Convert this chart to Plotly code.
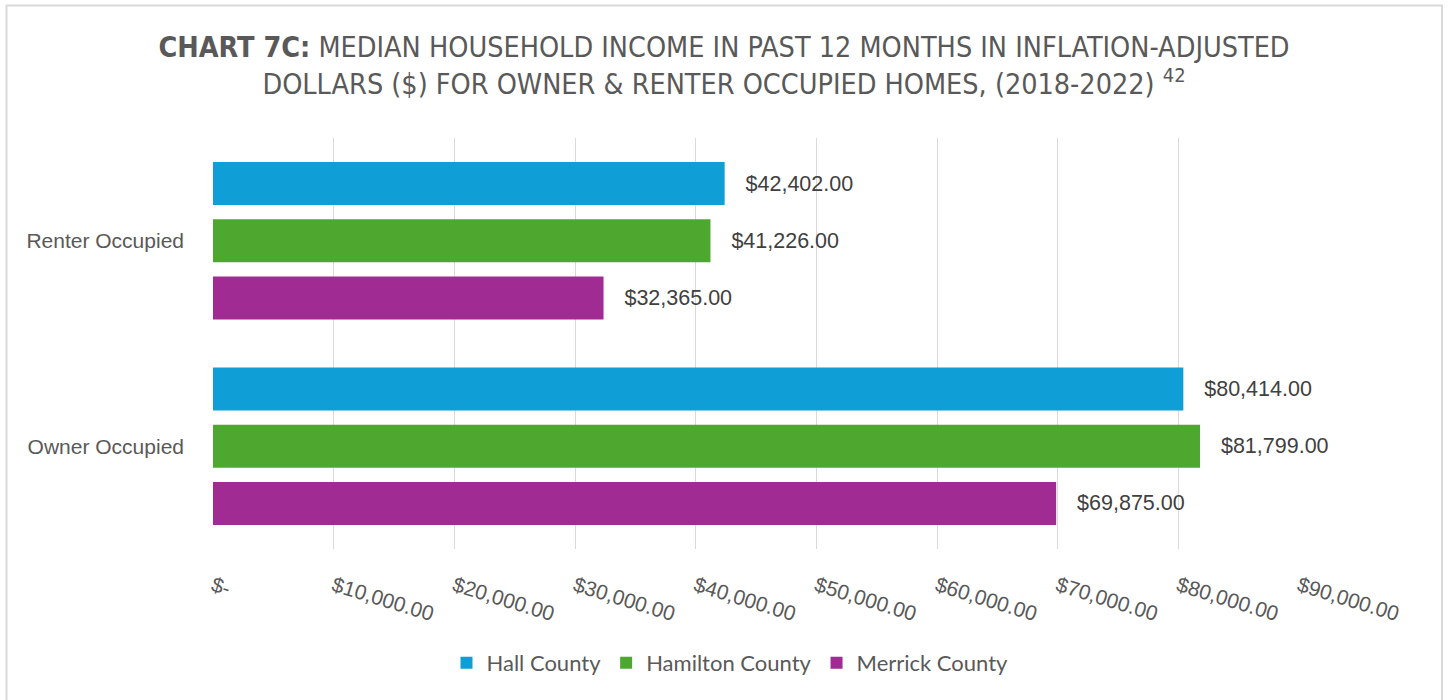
import plotly.graph_objects as go

categories = ["Owner Occupied", "Renter Occupied"]
series_names = ["Hall County", "Hamilton County", "Merrick County"]
hall = [80414, 42402]
hamilton = [81799, 41226]
merrick = [69875, 32365]
tick_vals = [0, 10000, 20000, 30000, 40000, 50000, 60000, 70000, 80000, 90000]
tick_text = ["$-", "$10,000.00", "$20,000.00", "$30,000.00", "$40,000.00",
             "$50,000.00", "$60,000.00", "$70,000.00", "$80,000.00", "$90,000.00"]
colors = {"Hall County": "#0F9ED5", "Hamilton County": "#4EA72E", "Merrick County": "#A02B93"}
values = {"Hall County": hall, "Hamilton County": hamilton, "Merrick County": merrick}

W, H = 1448, 700
L, R, T, B = 213, 149, 138, 151
pw, ph = W - L - R, H - T - B

fig = go.Figure()
# add bottom-to-top so Hall sits on top of each group
for rank, name in zip([3, 2, 1], ["Merrick County", "Hamilton County", "Hall County"]):
    fig.add_trace(go.Bar(
        y=categories, x=values[name], name=name, orientation="h",
        marker=dict(color=colors[name], line=dict(width=0)),
        texttemplate="   $%{x:,.2f}", textposition="outside",
        textfont=dict(family="Liberation Sans, Arial, sans-serif", size=21.5, color="#404040"),
        cliponaxis=False, legendrank=rank, hoverinfo="skip",
    ))

def px_x(p):
    return (p - L) / pw

def px_y(p):
    return (H - B - p) / ph

fig.update_layout(
    width=W, height=H,
    margin=dict(l=L, r=R, t=T, b=B),
    paper_bgcolor="white", plot_bgcolor="white",
    barmode="group", bargap=0.165, bargroupgap=0.25,
    title=dict(
        text="<b>CHART 7C:</b> MEDIAN HOUSEHOLD INCOME IN PAST 12 MONTHS IN INFLATION-ADJUSTED<br>"
             "DOLLARS ($) FOR OWNER &amp; RENTER OCCUPIED HOMES, (2018-2022) <sup>42</sup>",
        x=0.5, xref="container", xanchor="center",
        y=1 - 57 / H, yref="container", yanchor="top",
        font=dict(family="Liberation Sans Narrow, DejaVu Sans Condensed, sans-serif", size=28.5, color="#595959"),
    ),
    xaxis=dict(
        range=[0, 90000], tickvals=tick_vals, ticktext=tick_text, tickangle=17,
        showgrid=True, gridcolor="#D9D9D9", gridwidth=1.3, zeroline=False, showline=False,
        ticks="", ticklabelstandoff=20,
        tickfont=dict(family="Liberation Sans, Arial, sans-serif", size=21, color="#595959"),
        fixedrange=True,
    ),
    yaxis=dict(
        categoryorder="array", categoryarray=categories,
        showgrid=False, zeroline=False, showline=False, ticks="", ticklabelstandoff=28,
        tickfont=dict(family="Liberation Sans, Arial, sans-serif", size=21, color="#595959"),
        fixedrange=True,
    ),
    legend=dict(
        orientation="h", x=px_x(730), xanchor="center", y=px_y(663), yanchor="middle",
        font=dict(family="Lato, Roboto, sans-serif", size=22, color="#595959"),
        itemwidth=30, traceorder="normal",
    ),
    showlegend=True,
    shapes=[dict(
        type="rect", xref="paper", yref="paper",
        x0=px_x(6.5), x1=px_x(1442), y0=px_y(760), y1=px_y(5.5),
        line=dict(color="#D9D9D9", width=2), fillcolor="rgba(0,0,0,0)", layer="below",
    )],
)

fig.write_html("out.html", config={"displayModeBar": False},
               post_script="document.body.style.margin='0';")
